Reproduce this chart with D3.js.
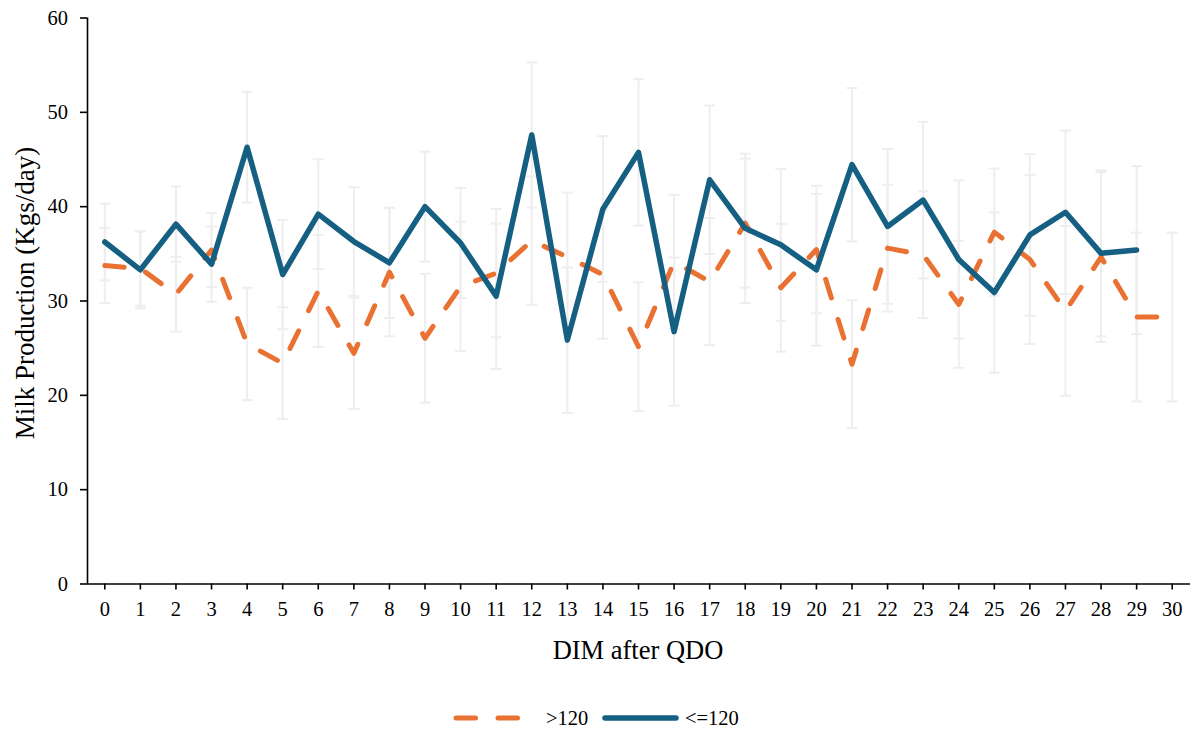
<!DOCTYPE html>
<html>
<head>
<meta charset="utf-8">
<script src="https://cdn.jsdelivr.net/npm/d3@7/dist/d3.min.js"></script>
<style>
  html, body { margin: 0; padding: 0; background: #ffffff; }
  svg { display: block; }
  text { font-family: "Liberation Serif", "Times New Roman", serif; fill: #000; }
</style>
</head>
<body>
<svg id="chart" width="1194" height="732"></svg>
<script>
// ---- data ----
const categories = ["0","1","2","3","4","5","6","7","8","9","10","11","12","13","14","15","16","17","18","19","20","21","22","23","24","25","26","27","28","29","30"];
const yTicks = [0, 10, 20, 30, 40, 50, 60];

const seriesNames = [">120", "<=120"];

// >120 group
const over120Mean = [33.7, 33.4, 30.65, 35.35, 25.4, 23.35, 31.0, 24.4, 33.0, 26.0, 31.5, 32.9, 36.35, 34.6, 32.75, 25.1, 34.1, 32.0, 38.2, 31.35, 35.4, 23.25, 35.55, 34.85, 29.6, 37.25, 34.35, 28.9, 34.6, 28.25, 28.25];
const over120SD   = [3.98, 3.95, 3.95, 3.93, 5.96, 5.92, 5.93, 5.9, 6.8, 6.83, 6.85, 6.8, 6.8, 6.84, 6.8, 6.83, 7.1, 6.73, 6.83, 6.77, 6.75, 6.77, 6.72, 6.72, 6.73, 6.74, 8.97, 9.0, 9.0, 8.95, 8.95];

// <=120 group
const under120Mean = [36.2, 33.25, 38.1, 33.85, 46.25, 32.75, 39.15, 36.25, 34.0, 39.95, 36.1, 30.45, 47.55, 25.8, 39.7, 45.7, 26.7, 42.8, 37.65, 35.9, 33.25, 44.4, 37.85, 40.65, 34.35, 30.85, 36.95, 39.35, 35.0, 35.35, null];
const under120SD   = [4.07, 4.07, 4.0, 3.98, 5.87, 5.8, 5.82, 5.75, 5.85, 5.83, 5.83, 7.7, 7.69, 7.71, 7.72, 7.76, 7.85, 7.87, 7.92, 8.04, 8.05, 8.13, 8.2, 8.3, 8.38, 8.49, 8.56, 8.66, 8.8, 8.9, null];

// ---- layout ----
const svg = d3.select("#chart");
const mLeft = 87, mRight = 1190, mTop = 17.5, mBottom = 583.5;

const x = d3.scaleBand().domain(categories).range([mLeft, mRight]).padding(0);
const y = d3.scaleLinear().domain([0, 60]).range([mBottom, mTop]);
const cx = c => x(c) + x.bandwidth() / 2;

const orange = "#E97132", blue = "#156082", errColor = "#eeeeee";

// ---- error bars (behind lines) ----
const errG = svg.append("g");
function drawErr(means, sds) {
  categories.forEach((c, i) => {
    const m = means[i], s = sds[i];
    if (m == null || s == null) return;
    const xc = cx(c), y1 = y(m + s), y2 = y(m - s), cap = 5.5;
    errG.append("line").attr("x1", xc).attr("x2", xc).attr("y1", y1).attr("y2", y2)
      .attr("stroke", errColor).attr("stroke-width", 2);
    [y1, y2].forEach(yy => errG.append("line")
      .attr("x1", xc - cap).attr("x2", xc + cap).attr("y1", yy).attr("y2", yy)
      .attr("stroke", errColor).attr("stroke-width", 2));
  });
}
drawErr(under120Mean, under120SD);
drawErr(over120Mean, over120SD);

// ---- axes ----
const yAxis = svg.append("g").attr("transform", `translate(${mLeft},0)`)
  .call(d3.axisLeft(y).tickValues(yTicks).tickSize(7).tickPadding(12).tickFormat(d3.format("d")));
const xAxis = svg.append("g").attr("transform", `translate(0,${mBottom})`)
  .call(d3.axisBottom(x).tickSize(6).tickPadding(12).tickSizeOuter(0));
[yAxis, xAxis].forEach(g => {
  g.selectAll("path.domain").attr("stroke", "#000").attr("stroke-width", 1.6);
  g.selectAll(".tick line").attr("stroke", "#000").attr("stroke-width", 1.6);
  g.selectAll("text").style("font-family", '"Liberation Serif", serif').style("font-size", "20.5px").attr("fill", "#000");
});
xAxis.select("path.domain").attr("d", `M${mLeft},0.5H${mRight}`);
yAxis.select("path.domain").attr("d", `M0.5,${mTop}V${mBottom}`);

// ---- lines ----
const lineGen = d3.line()
  .defined(d => d.v != null)
  .x(d => cx(d.c)).y(d => y(d.v));

svg.append("path")
  .datum(categories.map((c, i) => ({ c, v: over120Mean[i] })))
  .attr("d", lineGen).attr("fill", "none")
  .attr("stroke", orange).attr("stroke-width", 5)
  .attr("stroke-dasharray", "19.5,22.5").attr("stroke-linecap", "round").attr("stroke-linejoin", "round");

svg.append("path")
  .datum(categories.map((c, i) => ({ c, v: under120Mean[i] })))
  .attr("d", lineGen).attr("fill", "none")
  .attr("stroke", blue).attr("stroke-width", 5.5)
  .attr("stroke-linecap", "round").attr("stroke-linejoin", "round");

// ---- axis titles ----
svg.append("text").attr("x", 638).attr("y", 659)
  .attr("text-anchor", "middle").style("font-size", "26.5px").text("DIM after QDO");
svg.append("text")
  .attr("transform", `translate(34,293) rotate(-90)`)
  .attr("text-anchor", "middle").style("font-size", "27px").text("Milk Production (Kgs/day)");

// ---- legend ----
const legend = svg.append("g");
const legendItems = [
  { name: seriesNames[0], color: orange, dash: "19.5,22.5", x0: 456, x1: 538, tx: 546 },
  { name: seriesNames[1], color: blue, dash: null, x0: 605, x1: 676, tx: 685 }
];
legendItems.forEach(it => {
  const ln = legend.append("line").attr("x1", it.x0).attr("x2", it.x1).attr("y1", 718).attr("y2", 718)
    .attr("stroke", it.color).attr("stroke-width", it.dash ? 5 : 5.5).attr("stroke-linecap", "round");
  if (it.dash) ln.attr("stroke-dasharray", it.dash);
  legend.append("text").attr("x", it.tx).attr("y", 725).style("font-size", "20.5px").text(it.name);
});
</script>
</body>
</html>
